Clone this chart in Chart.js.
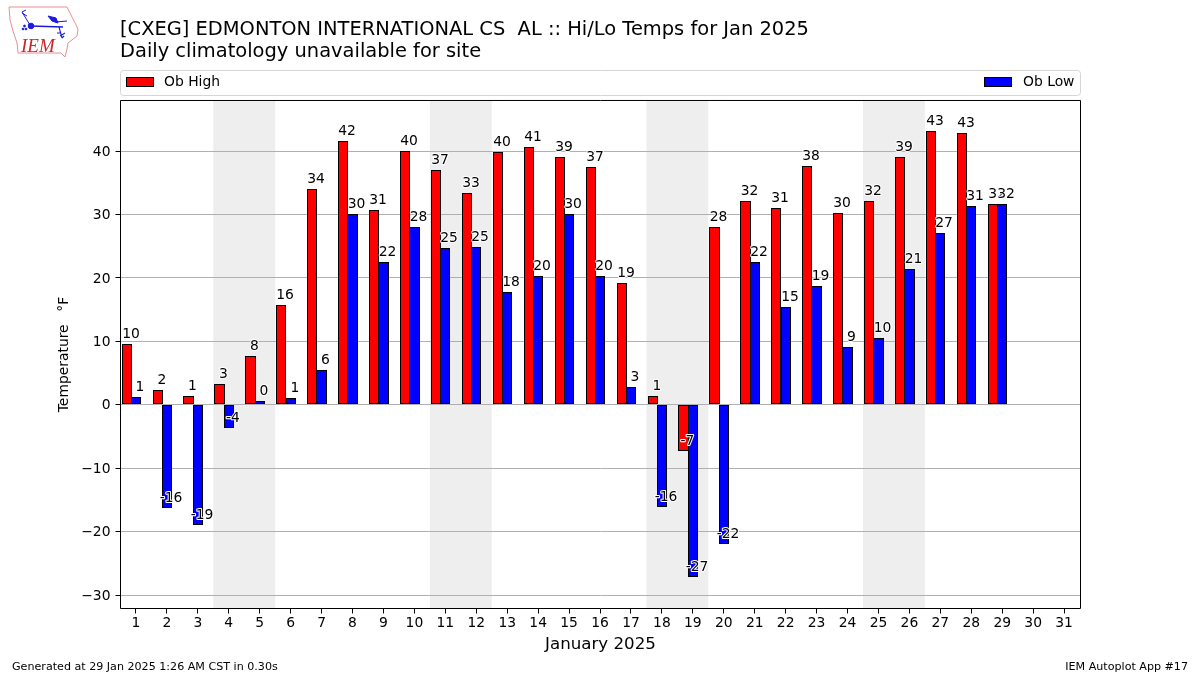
<!DOCTYPE html>
<html>
<head>
<meta charset="utf-8">
<style>
html,body{margin:0;padding:0;background:#fff;overflow:hidden}
#wrap{position:relative;width:1200px;height:675px}
canvas{position:absolute;left:0;top:0}
#logo{position:absolute;left:5px;top:3px}
</style>
<script src="https://cdn.jsdelivr.net/npm/chart.js@4"></script>
</head>
<body>
<div id="wrap">
<canvas id="c" width="1200" height="675"></canvas>
<svg id="logo" width="80" height="58" viewBox="0 0 80 58">
  <path d="M4 4 L62 4 L65 10 L68 16 L73 26 L72 33 L63 40 L62 46 L60 54 L56 50 L13 50 L12 40 L8 28 L5 17 Z" fill="#fff" stroke="#e89090" stroke-width="1"/>
  <g stroke="#1a1ae0" fill="#1a1ae0">
    <path d="M26 23 L58 24" stroke-width="1.6"/>
    <circle cx="26" cy="23" r="2.8"/>
    <path d="M25 22 L17 9 M17 9 L21 7 M17 10 L22 13" stroke-width="1" fill="none"/>
    <path d="M43 13 L51 15 L53 20 L47 18 Z"/>
    <path d="M50 19 L62 18" stroke-width="1.2"/>
    <path d="M54 24 L57 35 M52 30 L56 30 M55 33 L60 30 M57 35 L59 33" stroke-width="1.1" fill="none"/>
    <circle cx="21" cy="26" r="0.9"/><circle cx="18" cy="26" r="0.9"/><circle cx="19.5" cy="23" r="0.9"/>
  </g>
  <text x="16" y="49" font-family="Liberation Serif" font-style="italic" font-size="19" fill="#d0242c">IEM</text>
</svg>
</div>
<script>
const days = [1,2,3,4,5,6,7,8,9,10,11,12,13,14,15,16,17,18,19,20,21,22,23,24,25,26,27,28,29,30,31];
const obHigh = [9.5,2.3,1.3,3.2,7.7,15.7,34,41.5,30.6,39.9,37,33.3,39.7,40.6,39,37.4,19.2,1.3,-7.2,28,32,31,37.6,30.2,32,39,43,42.8,31.6];
const obLow = [1.2,-16.2,-18.9,-3.6,0.5,1,5.4,30,22.4,28,24.7,24.8,17.7,20.3,30,20.2,2.8,-16,-27,-21.9,22.4,15.4,18.6,9,10.4,21.3,27,31.2,31.6];
const highLabels = ["10","2","1","3","8","16","34","42","31","40","37","33","40","41","39","37","19","1","-7","28","32","31","38","30","32","39","43","43","32"];
const lowLabels = ["1","-16","-19","-4","0","1","6","30","22","28","25","25","18","20","30","20","3","-16","-27","-22","22","15","19","9","10","21","27","31","32"];
const yTickValues = [-30,-20,-10,0,10,20,30,40];
const weekendStarts = [4,11,18,25];
const titleLines = ["[CXEG] EDMONTON INTERNATIONAL CS  AL :: Hi/Lo Temps for Jan 2025","Daily climatology unavailable for site"];
const xTitle = "January 2025";
const yTitle = "Temperature \u2009\u2009\u2009\u00b0F";
const footLeft = "Generated at 29 Jan 2025 1:26 AM CST in 0.30s";
const footRight = "IEM Autoplot App #17";
const FONT = "'DejaVu Sans'";
const GROUP_SHIFT = 0.15;

const decorations = {
  id: 'decorations',
  afterLayout(chart) {
    chart.titleBlock.left = 120;
  },
  beforeDraw(chart) {
    const {ctx, chartArea: a, scales: {x}} = chart;
    ctx.save();
    ctx.fillStyle = '#eeeeee';
    weekendStarts.forEach(d => {
      const l = x.getPixelForValue(d - 0.5);
      const r = x.getPixelForValue(d + 1.5);
      ctx.fillRect(l, a.top, r - l, a.bottom - a.top);
    });
    ctx.restore();
  },
  beforeDatasetsDraw(chart) {
    // snap bar edges to whole pixels; the outline straddles the value as in the reference
    [0, 1].forEach(di => {
      chart.getDatasetMeta(di).data.forEach(el => {
        if (el._snapped) return;
        const l = Math.round(el.x - el.width / 2);
        const r = Math.round(el.x + el.width / 2);
        el.x = (l + r) / 2;
        el.width = r - l;
        el.y = el.y < el.base ? Math.round(el.y - 0.5) : Math.round(el.y + 0.5);
        el.base = Math.round(el.base);
        el._snapped = true;
      });
    });
  },
  afterDatasetsDraw(chart) {
    const {ctx, chartArea: a, scales: {y}} = chart;
    ctx.save();
    const y0 = Math.floor(y.getPixelForValue(0)) + 0.5;
    ctx.strokeStyle = '#b0b0b0';
    ctx.lineWidth = 1;
    ctx.beginPath(); ctx.moveTo(a.left, y0); ctx.lineTo(a.right, y0); ctx.stroke();

    ctx.font = '13.89px ' + FONT;
    ctx.textAlign = 'center';
    ctx.textBaseline = 'alphabetic';
    ctx.lineJoin = 'round';
    [highLabels, lowLabels].forEach((labels, di) => {
      const meta = chart.getDatasetMeta(di);
      labels.forEach((t, i) => {
        const el = meta.data[i];
        const px = el.x + 4;
        const py = el.y - 6;
        ctx.strokeStyle = '#fff';
        ctx.lineWidth = 2;
        ctx.strokeText(t, px, py);
        ctx.fillStyle = '#000';
        ctx.fillText(t, px, py);
      });
    });

    ctx.strokeStyle = '#000';
    ctx.lineWidth = 1;
    ctx.strokeRect(a.left, a.top, a.right - a.left, a.bottom - a.top);
    ctx.restore();
  },
  afterDraw(chart) {
    const {ctx, data} = chart;
    ctx.save();
    ctx.strokeStyle = '#d6d6d6';
    ctx.lineWidth = 1;
    ctx.fillStyle = '#fff';
    ctx.beginPath();
    ctx.roundRect(120.5, 70.5, 960, 25, 3);
    ctx.fill(); ctx.stroke();
    ctx.font = '13.89px ' + FONT;
    ctx.textBaseline = 'alphabetic';
    ctx.textAlign = 'left';
    const drawItem = (ds, bx, tx) => {
      ctx.fillStyle = ds.backgroundColor;
      ctx.fillRect(bx, 77, 27, 9);
      ctx.strokeStyle = '#000';
      ctx.strokeRect(bx + 0.5, 77.5, 27, 9);
      ctx.fillStyle = '#000';
      ctx.fillText(ds.label, tx, 86);
    };
    drawItem(data.datasets[0], 126, 164);
    drawItem(data.datasets[1], 984, 1023);
    ctx.font = '11.11px ' + FONT;
    ctx.fillStyle = '#000';
    ctx.textAlign = 'left';
    ctx.fillText(footLeft, 12, 670);
    ctx.textAlign = 'right';
    ctx.fillText(footRight, 1188, 670);
    ctx.restore();
  }
};

const toPoints = vals => vals.map((v, i) => ({x: days[i] - GROUP_SHIFT, y: v}));

new Chart(document.getElementById('c'), {
  type: 'bar',
  data: {
    datasets: [
      {label: 'Ob High', data: toPoints(obHigh), backgroundColor: '#ff0000', borderColor: '#000', borderWidth: 1, borderSkipped: false, inflateAmount: 0},
      {label: 'Ob Low', data: toPoints(obLow), backgroundColor: '#0000ff', borderColor: '#000', borderWidth: 1, borderSkipped: false, inflateAmount: 0}
    ]
  },
  options: {
    responsive: false,
    animation: false,
    devicePixelRatio: 1,
    layout: {padding: {left: 0, right: 119.5, top: 0, bottom: 0}},
    datasets: {bar: {categoryPercentage: 0.6, barPercentage: 1.1}},
    plugins: {
      legend: {display: false},
      tooltip: {enabled: false},
      title: {
        display: true,
        fullSize: false,
        align: 'start',
        text: titleLines,
        color: '#000',
        font: {family: FONT, size: 19.44, weight: 'normal', lineHeight: 1.12},
        padding: {top: 19, bottom: 37.95}
      }
    },
    scales: {
      x: {
        type: 'linear',
        offset: false,
        min: 0.5,
        max: 31.53,
        grid: {offset: false, drawOnChartArea: false, drawTicks: true, tickLength: 5, tickColor: '#000'},
        border: {display: false},
        ticks: {color: '#000', font: {family: FONT, size: 13.89}, maxRotation: 0, autoSkip: false, padding: 2, callback: v => String(v)},
        afterBuildTicks(s) { s.ticks = days.map(v => ({value: v})); },
        title: {display: true, text: xTitle, color: '#000', font: {family: FONT, size: 16.67}, padding: {top: 0, bottom: 20}},
        afterFit(s) { s.height = 66.5; }
      },
      y: {
        min: -32.08,
        max: 47.96,
        grid: {color: '#b0b0b0', lineWidth: 1, tickLength: 5, tickColor: '#000'},
        border: {display: false},
        ticks: {
          color: '#000',
          font: {family: FONT, size: 13.89},
          padding: 5,
          labelOffset: 1,
          callback: v => String(v).replace('-', '\u2212')
        },
        afterBuildTicks(s) { s.ticks = yTickValues.map(v => ({value: v})); },
        title: {display: true, text: yTitle, color: '#000', font: {family: FONT, size: 13.89}, padding: {top: 56, bottom: 0}},
        afterFit(s) { s.width = 120.5; }
      }
    }
  },
  plugins: [decorations]
});
</script>
</body>
</html>
